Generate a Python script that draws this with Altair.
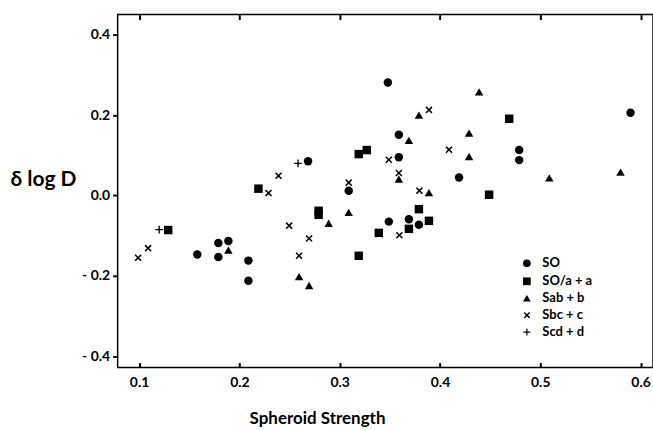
import altair as alt
import pandas as pd

# ---- data ----
so_x = [0.158, 0.179, 0.179, 0.189, 0.209, 0.209, 0.2685, 0.309, 0.348, 0.359, 0.359, 0.349, 0.369, 0.379, 0.419, 0.479, 0.479, 0.590]
so_y = [-0.147, -0.118, -0.153, -0.113, -0.162, -0.212, 0.085, 0.012, 0.281, 0.151, 0.095, -0.065, -0.059, -0.073, 0.045, 0.113, 0.088, 0.206]

s0a_x = [0.129, 0.219, 0.279, 0.279, 0.319, 0.327, 0.319, 0.339, 0.369, 0.379, 0.389, 0.449, 0.469]
s0a_y = [-0.086, 0.017, -0.038, -0.048, 0.103, 0.113, -0.150, -0.093, -0.083, -0.034, -0.063, 0.002, 0.191]

sab_x = [0.189, 0.2595, 0.2695, 0.289, 0.309, 0.359, 0.369, 0.379, 0.389, 0.429, 0.429, 0.439, 0.509, 0.580]
sab_y = [-0.136, -0.202, -0.224, -0.069, -0.042, 0.041, 0.137, 0.200, 0.007, 0.155, 0.097, 0.258, 0.044, 0.058]

sbc_x = [0.099, 0.109, 0.229, 0.239, 0.2496, 0.2595, 0.2695, 0.309, 0.349, 0.359, 0.3595, 0.3795, 0.389, 0.409]
sbc_y = [-0.155, -0.131, 0.006, 0.049, -0.075, -0.150, -0.107, 0.032, 0.089, 0.056, -0.099, 0.012, 0.213, 0.114]

scd_x = [0.2585, 0.120]
scd_y = [0.080, -0.085]

categories = ["SO", "SO/a + a", "Sab + b", "Sbc + c", "Scd + d"]
x_ticks = [0.1, 0.2, 0.3, 0.4, 0.5, 0.6]
y_ticks = [0.4, 0.2, 0.0, -0.2, -0.4]

X_DOMAIN = [0.0786, 0.6124]
Y_DOMAIN = [-0.428, 0.450]
H = 354

# ---- build tables ----
rows = []
for cat, xs, ys in zip(categories,
                       [so_x, s0a_x, sab_x, sbc_x, scd_x],
                       [so_y, s0a_y, sab_y, sbc_y, scd_y]):
    for a, b in zip(xs, ys):
        rows.append({"x": a, "y": b, "type": cat})
df = pd.DataFrame(rows)
tick_df = pd.DataFrame({"x": x_ticks})

FONT = "Lato"
X_PATH = ("M-0.58,-0.834L0,-0.255L0.58,-0.834L0.834,-0.58L0.255,0L0.834,0.58"
          "L0.58,0.834L0,0.255L-0.58,0.834L-0.834,0.58L-0.255,0L-0.834,-0.58Z")
PLUS_PATH = ("M-0.9,-0.16L-0.16,-0.16L-0.16,-0.9L0.16,-0.9L0.16,-0.16L0.9,-0.16"
             "L0.9,0.16L0.16,0.16L0.16,0.9L-0.16,0.9L-0.16,0.16L-0.9,0.16Z")
shape_range = ["circle", "square", "triangle-up", X_PATH, PLUS_PATH]

xscale = alt.Scale(domain=X_DOMAIN, nice=False, zero=False)
yscale = alt.Scale(domain=Y_DOMAIN, nice=False, zero=False)

x_main = alt.X("x:Q", scale=xscale,
               axis=alt.Axis(values=x_ticks, format=".1f", ticks=False, domain=False,
                             grid=False, labelPadding=8, labelFontSize=14, labelFont=FONT,
                             labelFontWeight="bold",
                             labelColor="black", title="Spheroid Strength",
                             titleX=200, titleY=56, titleAlign="center",
                             titleBaseline="alphabetic", titleFontSize=17,
                             titleFont=FONT, titleFontWeight="bold", titleColor="black"))

def tick_axis(orient):
    return alt.X("x:Q", scale=xscale,
                 axis=alt.Axis(orient=orient, offset=-H, values=x_ticks, labels=False,
                               title=None, domain=False, grid=False, ticks=True,
                               tickSize=5, tickWidth=2, tickColor="#000000"))

points = alt.Chart(df).mark_point(
    filled=True, opacity=1, size=72, color="black"
).encode(
    x=x_main,
    y=alt.Y("y:Q", scale=yscale,
            axis=alt.Axis(values=y_ticks,
                          labelExpr="datum.value < 0 ? '- ' + format(-datum.value, '.1f') : format(datum.value, '.1f')",
                          tickSize=5, tickColor="#000000", tickWidth=2, domain=False,
                          grid=False, labelPadding=3, labelFontSize=14, labelFont=FONT,
                          labelFontWeight="bold",
                          labelColor="black", title="δ log D", titleAngle=0,
                          titleX=-108, titleY=171, titleAlign="left",
                          titleBaseline="alphabetic", titleFontSize=21, titleFont=FONT,
                          titleFontWeight="bold", titleColor="black")),
    shape=alt.Shape("type:N", scale=alt.Scale(domain=categories, range=shape_range),
                    legend=alt.Legend(orient="none", legendX=404, legendY=243, title=None,
                                      padding=0, labelFontSize=13, labelFont=FONT,
                                      labelFontWeight="bold",
                                      labelColor="black", labelOffset=9, rowPadding=3,
                                      symbolSize=60, symbolFillColor="black",
                                      symbolStrokeColor="black",
                                      labelExpr="datum.label == 'SO' ? '     SO' : datum.label")),
)

bottom_ticks = alt.Chart(tick_df).mark_point(opacity=0).encode(
    x=tick_axis("top"), y=alt.value(H))
top_ticks = alt.Chart(tick_df).mark_point(opacity=0).encode(
    x=tick_axis("bottom"), y=alt.value(0))

chart = alt.layer(points, bottom_ticks, top_ticks).resolve_axis(
    x="independent"
).properties(
    width=537, height=H,
    padding={"left": 118, "top": 14, "right": 0, "bottom": 62},
    autosize=alt.AutoSizeParams(type="none"),
    background="white",
).configure_view(stroke="black", strokeWidth=1.5)

chart.save("out.html", embed_options={"renderer": "svg", "actions": False})
